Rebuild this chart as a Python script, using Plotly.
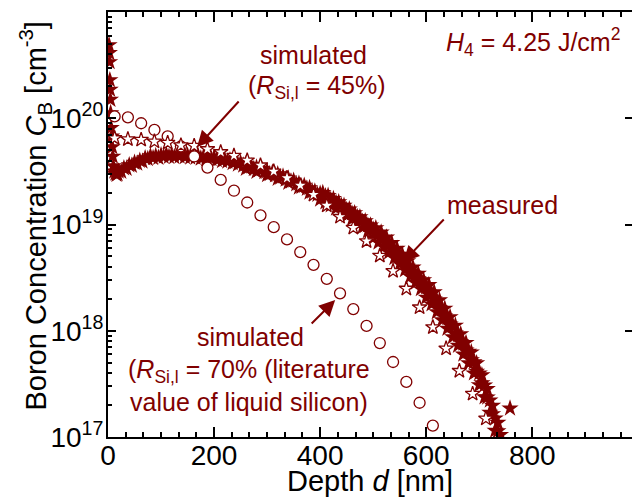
import plotly.graph_objects as go

RED = "#800000"
FONT = "Arial, Liberation Sans, sans-serif"

# ---------------- data ----------------
# measured SIMS profile: depth [nm] and log10 of boron concentration [cm^-3]
meas_depth = [2, 2.5, 3, 3.5, 4, 4.5, 5, 6, 7, 8, 9, 10, 12, 14, 16, 18,
              20, 25, 30, 35, 40, 45, 50, 55, 60, 65, 70, 75, 80, 85, 90, 95,
              100, 105, 110, 115, 120, 125, 130, 135, 140, 145, 150, 155, 160, 165,
              170, 175, 180, 185, 190, 195, 200, 205, 210, 215, 220, 225, 230, 235,
              240, 245, 250, 255, 260, 265, 270, 275, 280, 285, 290, 295, 300, 305,
              310, 315, 320, 325, 330, 335, 340, 345, 350, 355, 360, 365, 370, 375,
              380, 385, 390, 395, 400, 405, 410, 415, 420, 425, 430, 435, 440, 445,
              450, 455, 460, 465, 470, 475, 480, 485, 490, 495, 500, 505, 510, 515,
              520, 525, 530, 535, 540, 545, 550, 555, 560, 565, 570, 575, 580, 585,
              590, 595, 600, 605, 610, 615, 620, 625, 630, 635, 640, 645, 650, 655,
              660, 665, 670, 675, 680, 685, 690, 695, 700, 705, 710, 715, 720, 725,
              730, 735, 740, 745, 758,
              # lower-edge scatter
              260, 280, 300, 320, 340, 360, 380,
              400, 410, 420, 430, 440, 450, 460, 470, 480, 490,
              500, 510, 520, 530, 540, 550, 560, 570, 580, 590,
              600, 610, 620, 630, 640, 650, 660, 670, 680, 690, 700, 710, 720, 730,
              # upper-edge scatter
              405, 415, 425, 435, 445, 455, 465, 475, 485, 495,
              505, 515, 525, 535, 545, 555, 565, 575, 585, 595,
              605, 615, 625, 635, 645, 655, 665, 675, 685, 695, 705, 715, 725, 735]
meas_log_cb = [20.69, 20.615, 20.53, 20.36, 20.27, 20.175, 20.05, 19.91, 19.83, 19.73, 19.64, 19.55,
               19.50, 19.48, 19.47, 19.475,
               19.50, 19.498, 19.531, 19.526, 19.559, 19.554, 19.582, 19.575, 19.602, 19.594,
               19.625, 19.618, 19.644, 19.627, 19.645, 19.629,
               19.653, 19.639, 19.659, 19.639, 19.654, 19.636, 19.658, 19.641, 19.659, 19.636,
               19.651, 19.631, 19.650, 19.630,
               19.646, 19.622, 19.636, 19.616, 19.636, 19.618, 19.633, 19.609, 19.621, 19.598,
               19.615, 19.593, 19.607, 19.579,
               19.590, 19.566, 19.580, 19.556, 19.568, 19.539, 19.548, 19.523, 19.537, 19.514,
               19.524, 19.495, 19.502, 19.476,
               19.490, 19.464, 19.474, 19.444, 19.452, 19.424, 19.434, 19.406, 19.414, 19.381,
               19.386, 19.356, 19.366, 19.338,
               19.344, 19.311, 19.313, 19.282, 19.291, 19.261, 19.267, 19.231, 19.234, 19.201,
               19.207, 19.174, 19.177, 19.138,
               19.137, 19.102, 19.106, 19.072, 19.071, 19.031, 19.027, 18.990, 18.993, 18.956,
               18.955, 18.912, 18.908, 18.870,
               18.870, 18.827, 18.820, 18.772, 18.761, 18.716, 18.710, 18.665, 18.654, 18.603,
               18.588, 18.540, 18.532, 18.486,
               18.475, 18.423, 18.410, 18.361, 18.350, 18.295, 18.280, 18.216, 18.200, 18.135,
               18.122, 18.060, 18.045, 17.977,
               17.962, 17.893, 17.882, 17.815, 17.803, 17.723, 17.706, 17.617, 17.600, 17.507,
               17.487, 17.373, 17.345, 17.215,
               17.175, 17.055, 17.02, 16.95, 17.27,
               19.526, 19.497, 19.466, 19.432, 19.394, 19.350, 19.302,
               19.236, 19.210, 19.182, 19.152, 19.120, 19.086, 19.051, 19.014, 18.976, 18.938,
               18.873, 18.831, 18.790, 18.738, 18.685, 18.630, 18.572, 18.512, 18.452, 18.393,
               18.313, 18.250, 18.176, 18.100, 18.020, 17.940, 17.860, 17.778, 17.695, 17.600,
               17.490, 17.375, 17.230, 17.060,
               19.298, 19.271, 19.242, 19.211, 19.178, 19.144, 19.108, 19.070, 19.032, 18.993,
               18.967, 18.926, 18.879, 18.827, 18.773, 18.716, 18.657, 18.597, 18.538, 18.478,
               18.432, 18.363, 18.288, 18.210, 18.130, 18.050, 17.969, 17.887, 17.798, 17.695,
               17.583, 17.453, 17.295, 17.135]

# simulation with R_Si,l = 45 % (open stars)
sim45_depth = [12.5, 37.5, 62.5, 87.5, 112.5, 137.5, 162.5, 187.5, 212.5, 237.5,
               262.5, 287.5, 312.5, 337.5, 362.5, 387.5, 412.5, 437.5, 462.5, 487.5,
               512.5, 537.5, 562.5, 587.5, 612.5, 637.5, 662.5, 687.5, 712.5]
sim45_cb = [6.50e19, 6.35e19, 6.27e19, 6.04e19, 5.87e19, 5.56e19, 5.50e19, 5.12e19, 4.80e19, 4.44e19,
            4.01e19, 3.60e19, 3.16e19, 2.74e19, 2.33e19, 1.91e19, 1.51e19, 1.18e19, 9.31e18, 6.97e18,
            5.09e18, 3.65e18, 2.49e18, 1.66e18, 1.08e18, 6.81e17, 4.19e17, 2.55e17, 1.49e17]

# simulation with R_Si,l = 70 % (open circles)
sim70_depth = [12.5, 37.5, 62.5, 87.5, 112.5, 137.5, 162.5, 187.5, 212.5, 237.5,
               262.5, 287.5, 312.5, 337.5, 362.5, 387.5, 412.5, 437.5, 462.5, 487.5,
               512.5, 537.5, 562.5, 587.5, 612.5]
sim70_cb = [1.04e20, 1.02e20, 8.97e19, 7.76e19, 6.76e19, 5.42e19, 4.37e19, 3.43e19, 2.63e19, 2.08e19,
            1.61e19, 1.22e19, 9.44e18, 7.24e18, 5.50e18, 4.17e18, 3.08e18, 2.25e18, 1.60e18, 1.11e18,
            7.66e17, 5.08e17, 3.30e17, 2.10e17, 1.28e17]

x_ticks = [0, 200, 400, 600, 800]
x_ticklabels = ["0", "200", "400", "600", "800"]
y_ticks = [1e17, 1e18, 1e19, 1e20]
y_ticklabels = ["10<sup>17</sup>", "10<sup>18</sup>", "10<sup>19</sup>", "10<sup>20</sup>"]

# ---------------- figure ----------------
meas_cb = [10.0 ** v for v in meas_log_cb]

fig = go.Figure()
fig.add_trace(go.Scatter(
    x=meas_depth, y=meas_cb, mode="markers", name="measured",
    marker=dict(symbol="star", size=13, color=RED, line=dict(width=0))))
fig.add_trace(go.Scatter(
    x=sim70_depth, y=sim70_cb, mode="markers", name="simulated 70%",
    marker=dict(symbol="circle", size=11, color="white", line=dict(color=RED, width=1.3))))
fig.add_trace(go.Scatter(
    x=sim45_depth, y=sim45_cb, mode="markers", name="simulated 45%",
    marker=dict(symbol="star", size=11, color="white", line=dict(color=RED, width=1.3))))
# helper (empty) trace so that the right-hand tick axis is drawn
fig.add_trace(go.Scatter(x=[], y=[], yaxis="y2", showlegend=False, hoverinfo="skip"))

minor_y = [float(m) * 10.0 ** e for e in range(17, 21) for m in range(2, 10)]

fig.update_layout(
    width=632, height=499,
    margin=dict(l=108, r=0, t=12, b=62),
    paper_bgcolor="white", plot_bgcolor="white",
    showlegend=False,
    font=dict(family=FONT, color="black", size=28),
    xaxis=dict(
        range=[0, 988], showgrid=False, zeroline=False,
        showline=True, linecolor="black", linewidth=2, mirror="ticks",
        tickmode="array", tickvals=x_ticks, ticktext=x_ticklabels,
        ticks="inside", ticklen=10, tickwidth=2, tickcolor="black",
        tickfont=dict(size=28, family=FONT), ticklabelstandoff=-8,
        minor=dict(ticks="inside", ticklen=5, tickwidth=2, tickcolor="black",
                   dtick=200 / 6, tick0=0),
    ),
    yaxis=dict(
        type="log", range=[17, 21], showgrid=False, zeroline=False,
        showline=True, linecolor="black", linewidth=2, mirror=False,
        tickmode="array", tickvals=y_ticks, ticktext=y_ticklabels,
        ticks="inside", ticklen=8, tickwidth=2, tickcolor="black",
        tickfont=dict(size=28, family=FONT), ticklabelstandoff=-3,
        minor=dict(ticks="inside", ticklen=4, tickwidth=1.5, tickcolor="black",
                   tickmode="array", tickvals=minor_y),
    ),
    yaxis2=dict(
        type="log", range=[17, 21], overlaying="y", side="right", anchor="x",
        showgrid=False, zeroline=False, showline=False, showticklabels=False,
        tickmode="array", tickvals=[1e18, 1e19, 1e20],
        ticks="inside", ticklen=7, tickwidth=2, tickcolor="black",
    ),
)

# axis titles
fig.add_annotation(text="Depth <i>d</i> [nm]", xref="paper", yref="paper",
                   x=0.5, y=-0.1035, xanchor="center", yanchor="middle",
                   showarrow=False, font=dict(family=FONT, size=29, color="black"))
fig.add_annotation(text="Boron Concentration <i>C</i><sub>B</sub> [cm<sup>-3</sup>]",
                   xref="paper", yref="paper", x=-0.1393, y=0.5188, textangle=-90,
                   xanchor="center", yanchor="middle",
                   showarrow=False, font=dict(family=FONT, size=29, color="black"))

ann_font = dict(family=FONT, size=25, color=RED)
texts = [
    (388.0, 20.595, "simulated", "center"),
    (394.0, 20.294, "(<i>R</i><sub>Si,l</sub> = 45%)", "center"),
    (969.8, 20.718, "<i>H</i><sub>4</sub> = 4.25 J/cm<sup>2</sup>", "right"),
    (744.0, 19.180, "measured", "center"),
    (268.0, 17.941, "simulated", "center"),
    (266.5, 17.489, "(<i>R</i><sub>Si,l</sub> = 70% (literature<br>value of liquid silicon)", "center"),
]
for x, y, t, xa in texts:
    fig.add_annotation(x=x, y=y, xref="x", yref="y", text=t, showarrow=False,
                       xanchor=xa, yanchor="middle", font=ann_font)

arrows = [
    (167.9, 19.729, 43, -47),
    (556.6, 18.647, 42, -44),
    (428.3, 18.289, -25, 25),
]
for x, y, ax, ay in arrows:
    fig.add_annotation(x=x, y=y, xref="x", yref="y", text="", showarrow=True,
                       ax=ax, ay=ay, arrowhead=2, arrowsize=1.6, arrowwidth=2,
                       arrowcolor=RED, standoff=0)

fig.write_html("out.html")
